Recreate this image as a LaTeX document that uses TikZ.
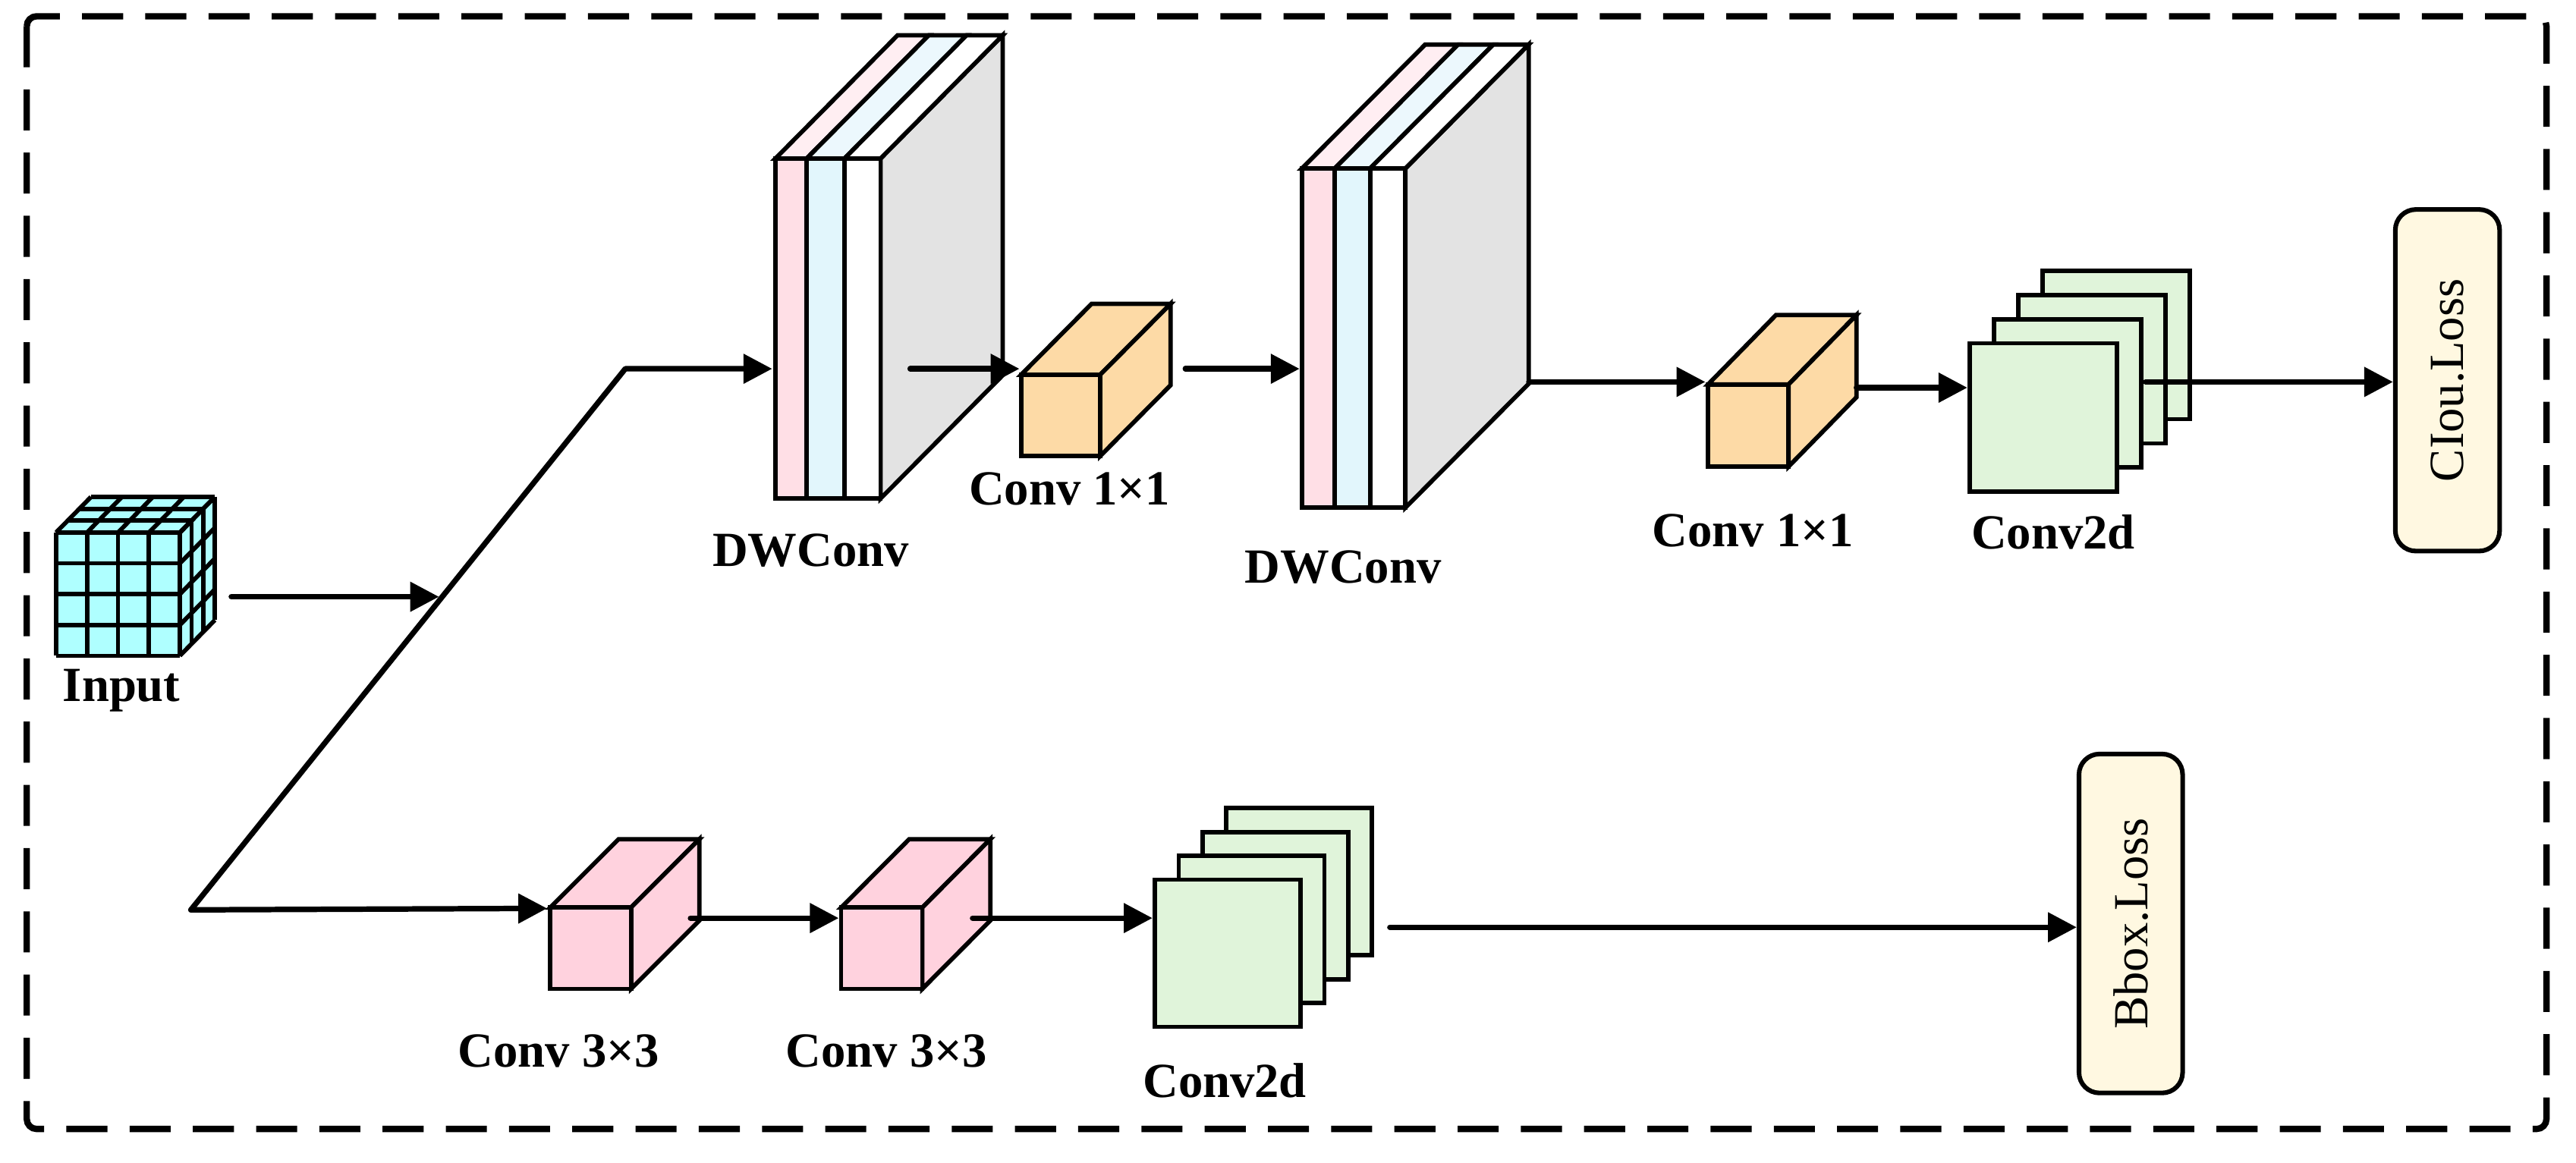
\documentclass[tikz,border=0pt]{standalone}
\usepackage{fontspec}
\setmainfont{Liberation Serif}
\usetikzlibrary{arrows.meta}
\definecolor{cubecyan}{RGB}{175,255,255}
\definecolor{dwpink}{RGB}{255,223,230}
\definecolor{dwpinktop}{RGB}{255,238,242}
\definecolor{dwblue}{RGB}{226,246,252}
\definecolor{dwbluetop}{RGB}{236,248,253}
\definecolor{dwgray}{RGB}{227,227,227}
\definecolor{orangebox}{RGB}{253,218,166}
\definecolor{pinkbox}{RGB}{255,210,222}
\definecolor{greensheet}{RGB}{224,244,218}
\definecolor{lossfill}{RGB}{255,248,225}

% cuboid: x, y(top of front), w, h, dx, dy(up), fill
\newcommand\mycuboid[7]{%
  \filldraw[boxline, fill=#7] (#1,#2) -- ++(#5,-#6) -- ++(#3,0) -- ++(-#5,#6) -- cycle;
  \filldraw[boxline, fill=#7] (#1+#3,#2) -- ++(#5,-#6) -- ++(0,#4) -- ++(-#5,#6) -- cycle;
  \filldraw[boxline, fill=#7] (#1,#2) rectangle ++(#3,#4);
}
% dw block: x0,x1,x2,x3, ytop, ybot, dx, dy
\newcommand\mydwblock[8]{%
  \filldraw[boxline, fill=dwgray] (#4,#5) -- ++(#7,-#8) -- ++(0,#6-#5) -- (#4,#6) -- cycle;
  \filldraw[boxline, fill=dwpinktop] (#1,#5) -- ++(#7,-#8) -- (#2+#7,#5-#8) -- (#2,#5) -- cycle;
  \filldraw[boxline, fill=dwbluetop] (#2,#5) -- ++(#7,-#8) -- (#3+#7,#5-#8) -- (#3,#5) -- cycle;
  \filldraw[boxline, fill=white] (#3,#5) -- ++(#7,-#8) -- (#4+#7,#5-#8) -- (#4,#5) -- cycle;
  \filldraw[boxline, fill=dwpink] (#1,#5) rectangle (#2,#6);
  \filldraw[boxline, fill=dwblue] (#2,#5) rectangle (#3,#6);
  \filldraw[boxline, fill=white] (#3,#5) rectangle (#4,#6);
}
% sheets: x, y, w, h, dx, dy(up)
\newcommand\mysheets[6]{%
  \foreach \k in {3,2,1,0} {
    \filldraw[boxline, fill=greensheet] (#1+\k*#5,#2-\k*#6) rectangle ++(#3,#4);
  }
}

\begin{document}
\begin{tikzpicture}[x=0.02cm,y=-0.02cm,
  boxline/.style={draw=black, line width=1.5pt},
  arr/.style={line width=1.9pt, line cap=round, -{Triangle[length=0.35cm,width=0.35cm]}},
  lbl/.style={font=\fontsize{17}{20}\selectfont\bfseries, inner sep=0pt, anchor=base},
  lossbox/.style={draw, line width=1.6pt, fill=lossfill, rounded corners=0.25cm, inner sep=0pt,
    font=\fontsize{17}{20}\selectfont}]
\useasboundingbox (0,0) rectangle (1568,708);

% outer dashed frame
\draw[line width=2.2pt, dash pattern=on 0.5cm off 0.27cm, rounded corners=0.12cm]
  (16.3,9.9) rectangle (1550,687.3);

% ---------- input cube ----------
\def\cx{34.1}\def\cy{324.2}\def\cw{75.4}\def\ch{75}\def\cdx{21.3}\def\cdy{21.7}
\fill[cubecyan] (\cx,\cy) -- ++(\cdx,-\cdy) -- ++(\cw,0) -- ++(0,\ch) -- ++(-\cdx,\cdy) -- ++(-\cw,0) -- cycle;
\begin{scope}[boxline, line join=miter]
\foreach \i in {0,...,4} {
  \draw (\cx+\i*\cw/4,\cy) -- ++(0,\ch);
  \draw (\cx,\cy+\i*\ch/4) -- ++(\cw,0);
  \draw (\cx+\i*\cw/4,\cy) -- ++(\cdx,-\cdy);
  \draw (\cx+\cw,\cy+\i*\ch/4) -- ++(\cdx,-\cdy);
}
\foreach \k in {1,2,3} {
  \draw (\cx+\k*\cdx/3,\cy-\k*\cdy/3) -- ++(\cw,0);
  \draw (\cx+\cw+\k*\cdx/3,\cy-\k*\cdy/3) -- ++(0,\ch);
}
\end{scope}
\node[lbl] (lInput) at (74,427) {Input};

% ---------- upper branch ----------
\mydwblock{472}{491}{514}{536}{96.5}{303.5}{74.3}{75}
\node[lbl] (lDW1) at (493.5,344.6) {DWConv};

\mycuboid{621.6}{228.1}{48.1}{49.5}{42.8}{43.1}{orangebox}
\node[lbl] (lC11a) at (651,307.5) {Conv 1×1};

\mydwblock{792.5}{812.5}{834}{855.5}{102.5}{309}{75}{75.4}
\node[lbl] (lDW2) at (817.6,354.7) {DWConv};

\mycuboid{1039.7}{234}{49}{50}{41.3}{42.2}{orangebox}
\node[lbl] (lC11b) at (1066.9,332.6) {Conv 1×1};

\mysheets{1199}{209}{89.6}{90.3}{14.8}{14.7}
\node[lbl] (lC2da) at (1249.8,334) {Conv2d};

\node[lossbox, minimum width=1.27cm, minimum height=4.16cm] (ciou) at (1489.75,231.5)
  {\rotatebox{90}{CIou.Loss}};

% ---------- lower branch ----------
\mycuboid{334.9}{552.5}{49.2}{49.5}{41.6}{41.6}{pinkbox}
\node[lbl] (lC33a) at (340,649.4) {Conv 3×3};

\mycuboid{512}{552.5}{49.4}{49.5}{41.4}{41.6}{pinkbox}
\node[lbl] (lC33b) at (539.6,649.7) {Conv 3×3};

\mysheets{703}{535.5}{88.6}{89.6}{14.5}{14.5}
\node[lbl] (lC2db) at (745.5,668) {Conv2d};

\node[lossbox, minimum width=1.262cm, minimum height=4.128cm] (bbox) at (1297,562.2)
  {\rotatebox{90}{Bbox.Loss}};

% ---------- connectors ----------
\coordinate (inA) at (140.8,363.3);
\coordinate (inB) at (267.2,363.3);
\coordinate (split) at (116.2,553.9);
\coordinate (bend) at (380.6,224.5);
\coordinate (dw1in) at (470,224.5);
\coordinate (p1in) at (333,553);
\coordinate (dw1out) at (554,224.5);
\coordinate (or1in) at (620.5,224.5);
\coordinate (or1out) at (721.5,224.5);
\coordinate (dw2in) at (791,224.5);
\coordinate (dw2out) at (930.6,232.5);
\coordinate (or2in) at (1038,232.5);
\coordinate (or2out) at (1130,236);
\coordinate (c2ain) at (1197.5,236);
\coordinate (c2aout) at (1306,232.5);
\coordinate (p1out) at (420.3,558.9);
\coordinate (p2in) at (510.5,558.9);
\coordinate (p2out) at (592,558.9);
\coordinate (c2bin) at (701.5,558.9);
\coordinate (c2bout) at (846,564.5);

\draw[arr] (inA) -- (inB);
\draw[arr, line join=round] (split) -- (bend) -- (dw1in);
\draw[arr] (split) -- (p1in);
\draw[arr] (dw1out) -- (or1in);
\draw[arr] (or1out) -- (dw2in);
\draw[arr] (dw2out) -- (or2in);
\draw[arr] (or2out) -- (c2ain);
\draw[arr] (c2aout) -- (c2aout -| ciou.west);
\draw[arr] (p1out) -- (p2in);
\draw[arr] (p2out) -- (c2bin);
\draw[arr] (c2bout) -- (c2bout -| bbox.west);
\end{tikzpicture}
\end{document}
